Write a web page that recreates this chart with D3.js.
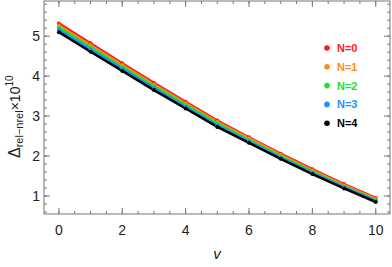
<!DOCTYPE html>
<html>
<head>
<meta charset="utf-8">
<script src="https://cdn.jsdelivr.net/npm/d3@7"></script>
<style>
  body { margin: 0; background: #fff; }
  svg { font-family: 'Liberation Sans', Arial, sans-serif; }
</style>
</head>
<body>
<div id="chart"></div>
<script>
// data
const vValues = [0, 1, 2, 3, 4, 5, 6, 7, 8, 9, 10];
const n0 = [5.32, 4.82, 4.32, 3.83, 3.36, 2.89, 2.47, 2.06, 1.67, 1.30, 0.95];
const n1 = [5.27, 4.77, 4.28, 3.79, 3.32, 2.85, 2.44, 2.03, 1.64, 1.27, 0.93];
const n2 = [5.22, 4.72, 4.23, 3.75, 3.28, 2.82, 2.40, 2.00, 1.61, 1.24, 0.90];
const n3 = [5.16, 4.67, 4.18, 3.70, 3.23, 2.77, 2.37, 1.96, 1.58, 1.22, 0.88];
const n4 = [5.10, 4.61, 4.13, 3.65, 3.19, 2.73, 2.33, 1.93, 1.55, 1.19, 0.85];
const seriesNames = ['N=0', 'N=1', 'N=2', 'N=3', 'N=4'];
const xTicks = [0, 2, 4, 6, 8, 10];
const yTicks = [1, 2, 3, 4, 5];

const colors = ['#ff1a1a', '#ff8c1a', '#22e022', '#1e8fff', '#000000'];
const series = [n0, n1, n2, n3, n4];

const W = 392, H = 267;
const margin = { top: 1, right: 2, bottom: 53, left: 44 };
const width = W - margin.left - margin.right,
  height = H - margin.top - margin.bottom;

const svg = d3.select('#chart')
  .append('svg')
  .attr('width', W)
  .attr('height', H);

const g = svg.append('g')
  .attr('transform', 'translate(' + margin.left + ',' + margin.top + ')');

const x = d3.scaleLinear().domain([-0.47, 10.45]).range([0, width]);
const y = d3.scaleLinear().domain([0.55, 5.88]).range([height, 0]);

const axisColor = '#777';

// frame
g.append('rect')
  .attr('width', width)
  .attr('height', height)
  .attr('fill', 'none')
  .attr('stroke', axisColor)
  .attr('stroke-width', 1);

// ticks (inward, on all four sides)
const xMinor = d3.range(0, 10.01, 0.5);
const yMinor = d3.range(0.6, 5.81, 0.2);

function drawTicks(vals, len, isX) {
  vals.forEach(v => {
    if (isX) {
      const px = x(v);
      g.append('line').attr('x1', px).attr('x2', px).attr('y1', height).attr('y2', height - len)
        .attr('stroke', axisColor);
      g.append('line').attr('x1', px).attr('x2', px).attr('y1', 0).attr('y2', len)
        .attr('stroke', axisColor);
    } else {
      const py = y(v);
      g.append('line').attr('x1', 0).attr('x2', len).attr('y1', py).attr('y2', py)
        .attr('stroke', axisColor);
      g.append('line').attr('x1', width).attr('x2', width - len).attr('y1', py).attr('y2', py)
        .attr('stroke', axisColor);
    }
  });
}
drawTicks(xMinor, 3, true);
drawTicks(xTicks, 6, true);
drawTicks(yMinor, 3, false);
drawTicks(yTicks, 6, false);

// tick labels
g.selectAll('.xlab')
  .data(xTicks)
  .join('text')
  .attr('x', d => x(d))
  .attr('y', height + 21)
  .attr('text-anchor', 'middle')
  .attr('font-size', 14)
  .attr('fill', '#222')
  .text(d => d);

g.selectAll('.ylab')
  .data(yTicks)
  .join('text')
  .attr('x', -4)
  .attr('y', d => y(d) + 5)
  .attr('text-anchor', 'end')
  .attr('font-size', 14)
  .attr('fill', '#222')
  .text(d => d);

// axis titles
svg.append('text')
  .attr('x', margin.left + width / 2)
  .attr('y', 259)
  .attr('text-anchor', 'middle')
  .attr('font-size', 15)
  .attr('font-style', 'italic')
  .attr('fill', '#222')
  .text('v');

// y title, anchored at its start (bottom, after rotation)
const yl = svg.append('text')
  .attr('transform', 'translate(20,158) rotate(-90)')
  .attr('text-anchor', 'start')
  .attr('fill', '#222');
yl.append('tspan').attr('font-size', 16).text('Δ');
yl.append('tspan').attr('font-size', 11).attr('dy', 3).text('rel−nrel');
yl.append('tspan').attr('font-size', 14).attr('dy', -3).text('×10');
yl.append('tspan').attr('font-size', 10).attr('dy', -7).text('10');

// lines + markers
const line = d3.line()
  .x((d, i) => x(vValues[i]))
  .y(d => y(d));

series.forEach((s, k) => {
  g.append('path')
    .datum(s)
    .attr('d', line)
    .attr('fill', 'none')
    .attr('stroke', colors[k])
    .attr('stroke-width', 2.5);
});
series.forEach((s, k) => {
  g.selectAll('.pt' + k)
    .data(s)
    .join('circle')
    .attr('cx', (d, i) => x(vValues[i]))
    .attr('cy', d => y(d))
    .attr('r', 2)
    .attr('fill', colors[k]);
});

// legend
const legend = svg.append('g');
seriesNames.forEach((name, k) => {
  const ly = 48 + k * 18.8;
  legend.append('circle')
    .attr('cx', 327)
    .attr('cy', ly)
    .attr('r', 2.8)
    .attr('fill', colors[k]);
  legend.append('text')
    .attr('x', 337)
    .attr('y', ly + 4)
    .attr('font-size', 11)
    .attr('font-weight', 'bold')
    .attr('fill', colors[k])
    .text(name);
});
</script>
</body>
</html>
